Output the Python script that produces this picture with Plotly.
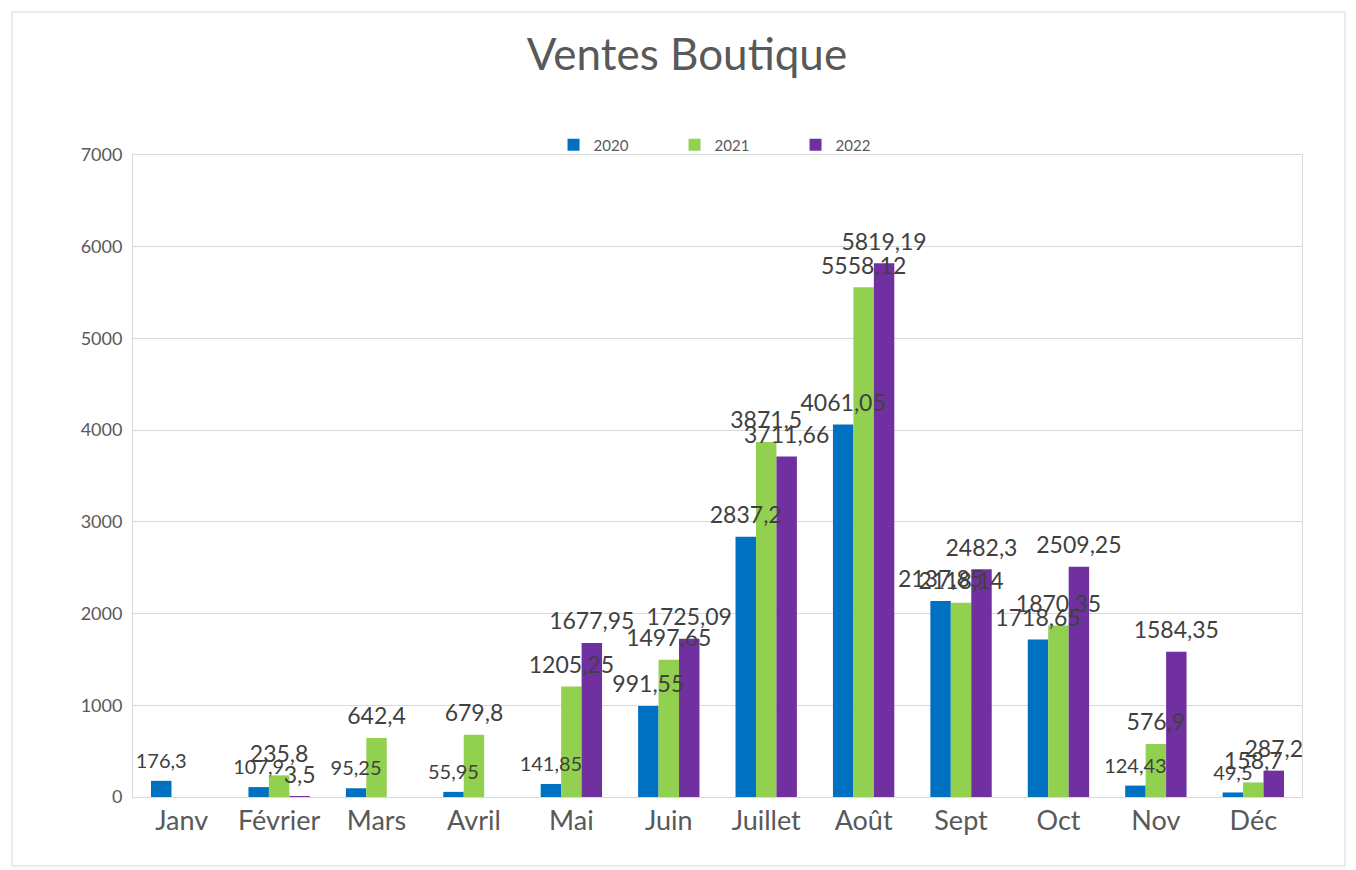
import plotly.graph_objects as go

months = ["Janv", "Février", "Mars", "Avril", "Mai", "Juin", "Juillet", "Août", "Sept", "Oct", "Nov", "Déc"]
v2020 = [176.3, 107.9, 95.25, 55.95, 141.85, 991.55, 2837.2, 4061.05, 2137.85, 1718.65, 124.43, 49.5]
v2021 = [None, 235.8, 642.4, 679.8, 1205.25, 1497.65, 3871.5, 5558.12, 2118.14, 1870.35, 576.9, 158.7]
v2022 = [None, 3.5, None, None, 1677.95, 1725.09, 3711.66, 5819.19, 2482.3, 2509.25, 1584.35, 287.2]
series_names = ["2020", "2021", "2022"]
colors = ["#0070C0", "#92D050", "#7030A0"]

# label font sizes (style): some 2020 labels use a smaller font in the reference
size2020 = [20, 20, 20, 20, 20, 23, 23, 23, 23, 23, 20, 20]
label_sizes = [size2020, 23, 23]

FONT = "Lato, 'Open Sans', sans-serif"
W, H = 1348, 862
L, T = 125, 147
PW, PH = 1169, 642


def fmt(v):
    return "" if v is None else str(v).replace(".", ",")


fig = go.Figure()
for name, vals, col in zip(series_names, [v2020, v2021, v2022], colors):
    fig.add_trace(go.Bar(
        x=months, y=vals, name=name, marker_color=col, marker_line_width=0,
        hoverinfo="x+y",
    ))
for name, vals, ls in zip(series_names, [v2020, v2021, v2022], label_sizes):
    fig.add_trace(go.Scatter(
        x=months, y=vals, mode="markers+text", text=[fmt(v) for v in vals],
        marker=dict(size=11, color="rgba(0,0,0,0)"),
        textposition="top center", cliponaxis=False, showlegend=False,
        textfont=dict(size=ls, color="#404040", family=FONT), hoverinfo="skip",
    ))

fig.update_layout(
    width=W, height=H,
    margin=dict(l=L, r=W - L - PW, t=T, b=H - T - PH),
    paper_bgcolor="white", plot_bgcolor="white",
    barmode="group", bargap=0.37, bargroupgap=0,
    scattermode="group", scattergap=0.37,
    title=dict(text="Ventes Boutique", x=(687 - 8) / W, xref="container", xanchor="center",
               y=1 - (55 - 8) / H, yref="container", yanchor="middle",
               font=dict(size=44, color="#595959", family=FONT)),
    legend=dict(orientation="h", x=0.515, xanchor="center", y=1.0156, yanchor="middle",
                font=dict(size=15, color="#595959", family=FONT), entrywidth=76,
                itemwidth=30, bgcolor="rgba(0,0,0,0)"),
    font=dict(family=FONT, color="#595959"),
    showlegend=True,
)
fig.update_yaxes(range=[0, 7000], dtick=1000, showgrid=True, gridcolor="#D9D9D9", gridwidth=1,
                 tickfont=dict(size=18, color="#595959", family=FONT), ticks="",
                 showline=True, linecolor="#D9D9D9", mirror=True, zeroline=False,
                 ticklabelstandoff=6)
fig.update_xaxes(showgrid=False, tickfont=dict(size=27, color="#595959", family=FONT), ticks="",
                 showline=True, linecolor="#D9D9D9", mirror=True)

# outer chart border
fig.add_shape(type="rect", xref="paper", yref="paper",
              x0=(12 - 133) / PW, x1=(1345 - 133) / PW,
              y0=(797 - 866) / PH, y1=(797 - 12) / PH,
              line=dict(color="#D9D9D9", width=1), layer="below")

fig.write_html("out.html")
